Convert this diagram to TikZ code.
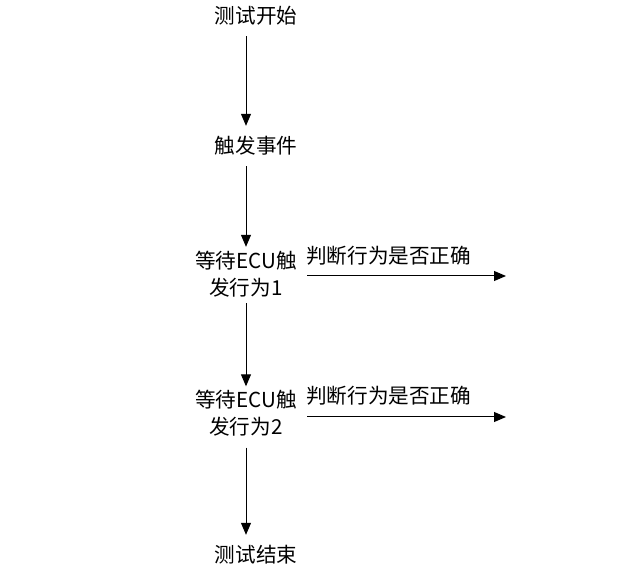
\documentclass[tikz,border=0pt]{standalone}
\usepackage{fontspec}
\setmainfont{Noto Sans CJK SC}
\usetikzlibrary{arrows.meta}
\begin{document}
\begin{tikzpicture}[x=1pt,y=1pt,
  txt/.style={inner sep=0pt, font=\fontsize{20.6pt}{27pt}\selectfont},
  single/.style={txt, minimum height=40pt},
  block/.style={txt, align=center, minimum height=54pt},
  arr/.style={line width=1pt, -{Triangle[length=12pt,width=10pt]}}]
\useasboundingbox (0,0) rectangle (641,-569);
\coordinate (ax) at (246,0);
\node[single] (start) at (256,-16) {测试开始};
\node[single] (event) at (256,-146) {触发事件};
\node[block] (b1) at (246,-274) {等待ECU触\\发行为1};
\node[block] (b2) at (246,-413.5) {等待ECU触\\发行为2};
\node[single] (end) at (256,-555) {测试结束};
\coordinate (r1) at (506,-276);
\coordinate (r2) at (506,-417);
\node[txt, anchor=west] (l1) at (306,-256) {判断行为是否正确};
\node[txt, anchor=west] (l2) at (306,-396) {判断行为是否正确};
\draw[arr] (start.south -| ax) -- (event.north -| ax);
\draw[arr] (event.south -| ax) -- (b1.north -| ax);
\draw[arr, shorten <=2pt] (b1.south -| ax) -- (b2.north -| ax);
\draw[arr, shorten <=7pt] (b2.south -| ax) -- (end.north -| ax);
\draw[arr, shorten <=10pt] (b1.east |- r1) -- (r1);
\draw[arr, shorten <=10pt] (b2.east |- r2) -- (r2);
\end{tikzpicture}
\end{document}
